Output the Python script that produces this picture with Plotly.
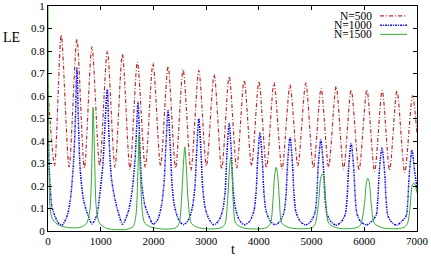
import plotly.graph_objects as go

# ---------------- data ----------------
series_names = ["N=500", "N=1000", "N=1500"]

t_500 = [0, 30, 124, 251, 400, 548, 690, 833, 980, 1125, 1270, 1411, 1555, 1696,
         1845, 1992, 2135, 2278, 2420, 2563, 2712, 2861, 3005, 3152, 3295, 3437,
         3580, 3722, 3862, 4002, 4145, 4287, 4440, 4591, 4740, 4890, 5035, 5181,
         5323, 5466, 5608, 5751, 5900, 6049, 6195, 6340, 6480, 6620, 6768, 6916, 7000]
le_500 = [0.65, 0.52, 0.29, 0.871, 0.285, 0.852, 0.28, 0.819, 0.29, 0.80, 0.283, 0.786,
          0.275, 0.75, 0.283, 0.746, 0.29, 0.731, 0.28, 0.717, 0.27, 0.714, 0.29, 0.695,
          0.275, 0.687, 0.28, 0.67, 0.29, 0.665, 0.28, 0.658, 0.275, 0.648, 0.29, 0.658,
          0.28, 0.633, 0.285, 0.643, 0.276, 0.628, 0.27, 0.628, 0.265, 0.624, 0.27, 0.624,
          0.26, 0.602, 0.43]

t_1000 = [0, 20, 42, 72, 137, 200, 262, 357, 422, 485, 520, 548, 580, 612, 675, 770, 836,
          925, 981, 1044, 1076, 1125, 1160, 1204, 1267, 1330, 1416,
          1520, 1585, 1648, 1680, 1707, 1743, 1775, 1838, 1933, 1992,
          2080, 2150, 2200, 2235, 2278, 2318, 2352, 2400, 2480, 2570,
          2665, 2735, 2785, 2820, 2861, 2902, 2936, 2985, 3065, 3149,
          3245, 3315, 3362, 3394, 3437, 3480, 3514, 3560, 3640, 3729,
          3830, 3905, 3946, 3976, 4021, 4066, 4098, 4138, 4215, 4306,
          4400, 4476, 4514, 4545, 4591, 4637, 4669, 4706, 4785, 4883,
          4985, 5062, 5097, 5128, 5175, 5222, 5254, 5288, 5365, 5463,
          5565, 5640, 5673, 5704, 5751, 5798, 5830, 5862, 5935, 6043,
          6131, 6225, 6255, 6287, 6335, 6383, 6415, 6445, 6511, 6610,
          6705, 6795, 6825, 6857, 6905, 6953, 7000]
le_1000 = [0.50, 0.30, 0.195, 0.11, 0.063, 0.035, 0.025, 0.063, 0.137, 0.31, 0.50, 0.727,
           0.46, 0.27, 0.137, 0.063, 0.032,
           0.07, 0.16, 0.305, 0.45, 0.629, 0.40, 0.233, 0.145, 0.085, 0.03,
           0.085, 0.16, 0.305, 0.45, 0.573, 0.38, 0.217, 0.115, 0.056, 0.03,
           0.05, 0.11, 0.21, 0.37, 0.536, 0.38, 0.21, 0.11, 0.05, 0.028,
           0.05, 0.10, 0.19, 0.35, 0.499, 0.35, 0.19, 0.10, 0.048, 0.027,
           0.048, 0.095, 0.18, 0.34, 0.477, 0.34, 0.18, 0.095, 0.045, 0.028,
           0.045, 0.088, 0.165, 0.31, 0.437, 0.31, 0.165, 0.088, 0.045, 0.028,
           0.043, 0.083, 0.155, 0.30, 0.415, 0.30, 0.155, 0.083, 0.043, 0.027,
           0.042, 0.08, 0.15, 0.295, 0.404, 0.295, 0.15, 0.08, 0.042, 0.026,
           0.041, 0.076, 0.145, 0.284, 0.389, 0.284, 0.145, 0.076, 0.041, 0.027,
           0.041, 0.07, 0.137, 0.27, 0.369, 0.27, 0.137, 0.07, 0.041, 0.026,
           0.041, 0.068, 0.133, 0.263, 0.36, 0.27, 0.19]

t_1500 = [0, 8, 20, 40, 80, 150, 250, 400, 550, 650, 734, 790, 820, 840, 855, 870, 886,
          918, 981, 1109, 1300, 1500, 1615, 1655, 1680, 1700, 1711, 1726, 1740, 1756,
          1778, 1800, 1838, 1950, 2060, 2250, 2420, 2487, 2532, 2565, 2595, 2625, 2658,
          2722, 2850, 3100, 3300, 3361, 3407, 3440, 3465, 3490, 3513, 3564, 3700, 3950,
          4150, 4220, 4268, 4300, 4328, 4356, 4390, 4440, 4580, 4850, 5020, 5073, 5137,
          5172, 5205, 5238, 5268, 5327, 5480, 5700, 5880, 5940, 6004, 6040, 6068, 6096,
          6131, 6194, 6350, 6600, 6760, 6820, 6870, 6905, 6935, 6965, 7000]
le_1500 = [1.0, 0.6, 0.25, 0.1, 0.055, 0.035, 0.022, 0.015, 0.014, 0.02, 0.035, 0.085,
           0.2, 0.4, 0.55, 0.45, 0.305, 0.1, 0.034, 0.012, 0.006, 0.008, 0.02, 0.05, 0.1,
           0.22, 0.305, 0.428, 0.33, 0.23, 0.12, 0.065, 0.034, 0.018, 0.012, 0.008, 0.014,
           0.034, 0.137, 0.28, 0.374, 0.28, 0.137, 0.034, 0.015, 0.009, 0.016, 0.034,
           0.137, 0.27, 0.325, 0.27, 0.137, 0.034, 0.014, 0.009, 0.015, 0.034, 0.137,
           0.25, 0.283, 0.25, 0.137, 0.034, 0.015, 0.01, 0.016, 0.034, 0.137, 0.235,
           0.254, 0.235, 0.137, 0.034, 0.014, 0.01, 0.017, 0.034, 0.122, 0.215, 0.235,
           0.215, 0.122, 0.034, 0.014, 0.01, 0.017, 0.034, 0.11, 0.2, 0.213, 0.205, 0.17]

x_ticks = [0, 1000, 2000, 3000, 4000, 5000, 6000, 7000]
y_ticks = [0, 0.1, 0.2, 0.3, 0.4, 0.5, 0.6, 0.7, 0.8, 0.9, 1]
y_tick_labels = ["0", "0.1", "0.2", "0.3", "0.4", "0.5", "0.6", "0.7", "0.8", "0.9", "1"]

# ---------------- styling ----------------
styles = [
    dict(color="rgb(185,45,45)", width=1.2, dash="4px,2px,1px,2px"),
    dict(color="rgb(15,15,225)", width=1.5, dash="2px,1px,1px,1px"),
    dict(color="rgb(50,170,50)", width=1, dash="solid"),
]
data = [(t_500, le_500), (t_1000, le_1000), (t_1500, le_1500)]

fig = go.Figure()
for (tx, ly), name, st in zip(data, series_names, styles):
    fig.add_trace(go.Scatter(
        x=tx, y=ly, mode="lines", name=name, showlegend=False, hoverinfo="skip",
        line=dict(color=st["color"], width=st["width"], dash=st["dash"],
                  shape="spline", smoothing=0.8),
    ))

# manual legend: text right-aligned, sample line to its right
legend_y = [0.956, 0.915, 0.874]
for name, st, ly in zip(series_names, styles, legend_y):
    fig.add_annotation(xref="paper", yref="paper", x=0.883, y=ly, text=name,
                       showarrow=False, xanchor="right", yanchor="middle",
                       font=dict(family="Liberation Serif", size=11.5, color="black"))
    fig.add_shape(type="line", xref="paper", yref="paper", x0=0.90, x1=0.973,
                  y0=ly, y1=ly,
                  line=dict(color=st["color"], width=st["width"], dash=st["dash"]))

fig.add_annotation(xref="paper", yref="paper", x=-0.128, y=0.862, text="LE",
                   showarrow=False, xanchor="left", yanchor="middle",
                   font=dict(family="Liberation Serif", size=14, color="black"))

fig.add_annotation(xref="paper", yref="paper", x=0.5, y=-0.082, text="t",
                   showarrow=False, xanchor="center", yanchor="middle",
                   font=dict(family="Liberation Serif", size=14, color="black"))

axis_common = dict(showline=True, linecolor="black", linewidth=1, mirror="ticks",
                   ticks="inside", ticklen=4, tickcolor="black", showgrid=False,
                   zeroline=False, automargin=False, ticklabeloverflow="allow",
                   tickfont=dict(family="Liberation Serif", size=11, color="black"))

fig.update_layout(
    width=431, height=256,
    margin=dict(l=48, r=14, t=6, b=25, autoexpand=False),
    paper_bgcolor="white", plot_bgcolor="white",
    font=dict(family="Liberation Serif", size=11, color="black"),
    hovermode=False,
    xaxis=dict(range=[0, 7000], tickvals=x_ticks, ticktext=[str(v) for v in x_ticks],
               **axis_common),
    yaxis=dict(range=[0, 1], tickvals=y_ticks, ticktext=y_tick_labels, **axis_common),
)

fig.write_html("out.html", config={"displayModeBar": False, "staticPlot": True},
               post_script="document.body.style.margin='0';document.body.style.overflow='hidden';")
